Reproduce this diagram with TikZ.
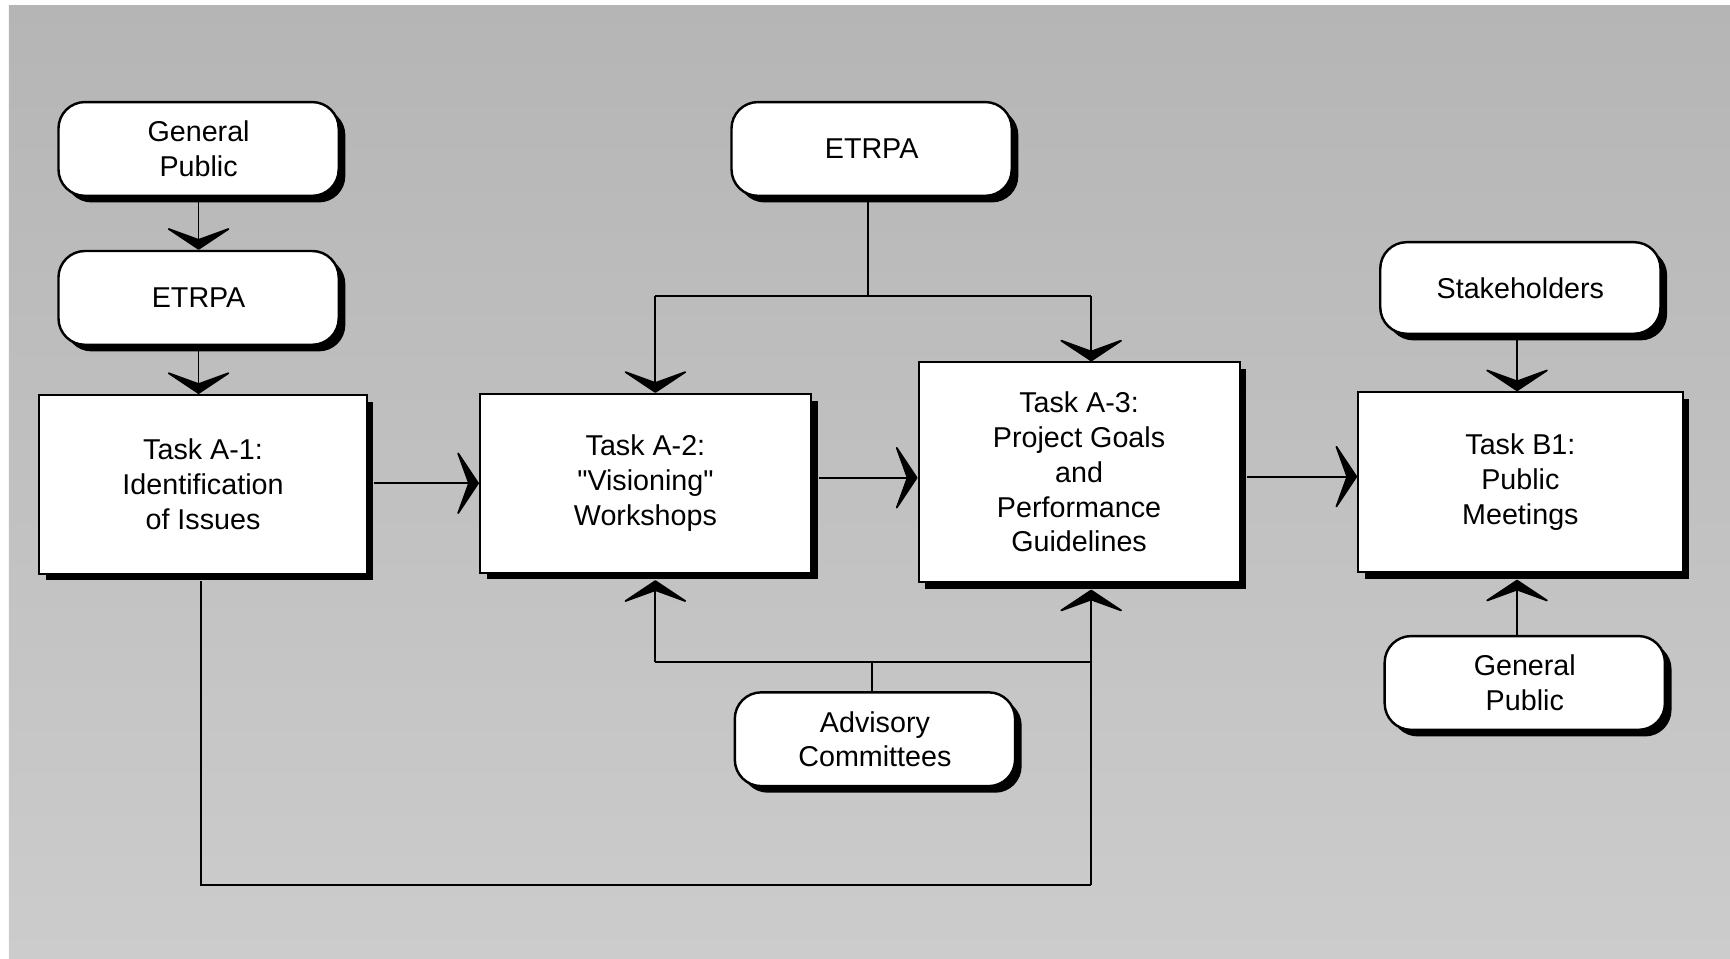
\documentclass[tikz,border=0pt]{standalone}
\usepackage{fontspec}
\setmainfont{Liberation Sans}[Ligatures=TeXOff]
\usetikzlibrary{arrows.meta,shadows}
\begin{document}
\begin{tikzpicture}[x=1pt,y=-1pt,
  txt/.style={align=center, font=\fontsize{26}{31.5}\selectfont},
  rbox/.style={txt, draw=black, line width=2.2pt, fill=white, rounded corners=24pt,
    minimum width=254pt, minimum height=85pt, inner sep=0pt,
    general shadow={fill=black, shadow xshift=6pt, shadow yshift=-6pt}},
  tbox/.style={txt, draw=black, line width=1.8pt, fill=white, inner sep=0pt,
    general shadow={fill=black, shadow xshift=6pt, shadow yshift=-6pt}},
  conn/.style={line width=1.6pt},
  arr/.style={conn, -{Stealth[length=22pt,width=66pt,inset=12pt,round]}},
  arrup/.style={arr, shorten >=6pt},
]
\useasboundingbox (0,0) rectangle (1568,869);
\shade[top color=black!29, bottom color=black!20] (8,5) rectangle (1568,869);

% nodes
\node[rbox] (gp1) at (180,135) {General\\Public};
\node[rbox] (etrpa1) at (180,270) {ETRPA};
\node[tbox, minimum width=297pt, minimum height=162pt] (a1) at (184,439) {Task A-1:\\Identification\\of Issues};
\node[tbox, minimum width=300pt, minimum height=162pt] (a2) at (585,438) {Task A-2:\\"Visioning"\\Workshops};
\node[tbox, minimum width=291pt, minimum height=199pt] (a3) at (978,428) {Task A-3:\\Project Goals\\and\\Performance\\Guidelines};
\node[tbox, minimum width=294pt, minimum height=163pt] (b1) at (1378,437) {Task B1:\\Public\\Meetings};
\node[rbox] (etrpa2) at (790,135) {ETRPA};
\node[rbox, minimum height=83pt] (stake) at (1378,261) {Stakeholders};
\node[rbox] (gp2) at (1382,619) {General\\Public};
\node[rbox] (adv) at (793,670) {Advisory\\Committees};

% junction coordinates
\coordinate (jt) at (787,268);
\coordinate (jtl) at (594,268);
\coordinate (jtr) at (989,268);
\coordinate (jb) at (790,600);
\coordinate (jbl) at (594,600);
\coordinate (jbr) at (989,600);
\coordinate (fb) at (989,802);

% vertical chain left
\draw[arr] (etrpa1.south |- gp1.south) -- (etrpa1.north);
\draw[arr] (etrpa1.south) -- (etrpa1.south |- a1.north);

% horizontal flow
\draw[arr] ([xshift=6pt]a1.east |- a2.west) -- (a2.west);
\draw[arr] ([xshift=6pt]a2.east |- 0,433) -- (a3.west |- 0,433);
\draw[arr] ([xshift=6pt]a3.east |- 0,432) -- (b1.west |- 0,432);

% ETRPA top distribution
\draw[conn] (etrpa2.south -| jt) -- (jt);
\draw[conn] (jtl) -- (jtr);
\draw[arr] (jtl) -- (jtl |- a2.north);
\draw[arr] (jtr) -- (jtr |- a3.north);

% Advisory distribution
\draw[conn] (adv.north -| jb) -- (jb);
\draw[conn] (jbl) -- (jbr);
\draw[arrup] (jbl) -- (jbl |- a2.south);
\draw[arrup] (fb) -- (jbr |- a3.south);

% feedback from A-1
\draw[conn] ([yshift=-6pt]a1.south -| 182,0) |- (fb);

% B1 inputs
\draw[arr] (stake.south -| 1375,0) -- (b1.north -| 1375,0);
\draw[arrup] (gp2.north -| 1375,0) -- (b1.south -| 1375,0);
\end{tikzpicture}
\end{document}
